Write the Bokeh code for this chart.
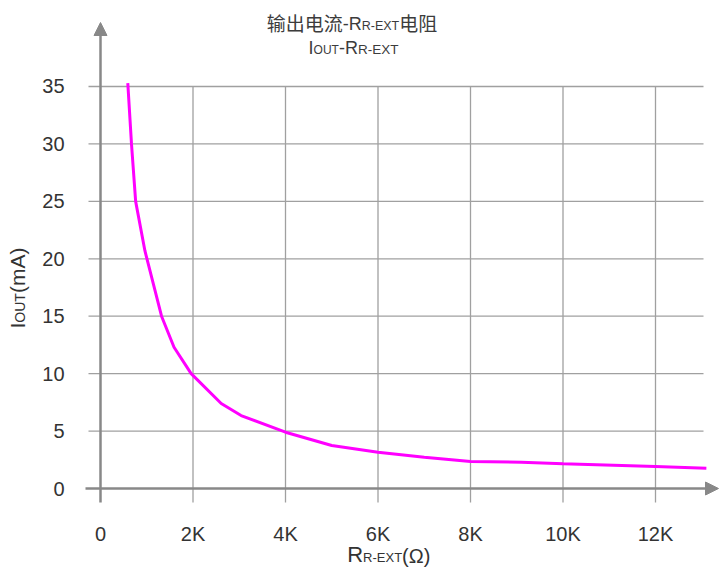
from bokeh.plotting import figure
from bokeh.models import Range1d, Label, Arrow, NormalHead
from bokeh.embed import file_html
from bokeh.resources import INLINE
from bokeh.core.properties import value
import math

# ---------------- data ----------------
r_kohm = [0.59, 0.67, 0.76, 0.96, 1.32, 1.59, 1.96, 2.61, 3.04, 4.0, 5.0, 6.0, 7.0, 8.0, 9.1, 10.0, 12.0, 13.1]
i_ma = [35.3, 30.0, 25.0, 20.7, 15.0, 12.3, 10.0, 7.4, 6.35, 4.9, 3.74, 3.16, 2.73, 2.35, 2.29, 2.15, 1.91, 1.77]

x_ticks = [0, 2, 4, 6, 8, 10, 12]
x_tick_labels = ["0", "2K", "4K", "6K", "8K", "10K", "12K"]
y_ticks = [0, 5, 10, 15, 20, 25, 30, 35]
y_tick_labels = ["0", "5", "10", "15", "20", "25", "30", "35"]

title_line1 = [("输出电流", "cjk", 19), ("-R", "lat", 18), ("R-EXT", "lat", 12.5), ("电阻", "cjk", 19)]
title_line2 = [("I", "lat", 18), ("OUT", "lat", 12), ("-R", "lat", 18), ("R-EXT", "lat", 13.5)]
x_label = [("R", "lat", 22), ("R-EXT", "lat", 13), ("(Ω)", "lat", 20)]
y_label = [("I", "lat", 21), ("OUT", "lat", 14), ("(mA)", "lat", 21)]

# ---------------- layout (page pixels; the page has no margin) ----------------
W, H = 720, 568
PX0, PY0 = 100.0, 488.0      # page px of data origin
SX, SY = 46.25, 11.486       # px per data unit

LAT = "Liberation Sans"
CJK = "Noto Sans CJK SC"
TXT = "#333333"
GRID = "#a0a0a0"
AX = "#888888"


def dx(px):
    return (px - PX0) / SX


def dy(py):
    return (PY0 - py) / SY


AW = {'I': 278, 'O': 778, 'U': 722, 'T': 611, '-': 333, 'R': 722, 'E': 667, 'X': 667,
      '(': 333, ')': 333, 'Ω': 768, 'm': 833, 'A': 667}


def width(text, kind, size):
    if kind == "cjk":
        return len(text) * size
    return sum(AW.get(c, 600) for c in text) / 1000.0 * size


def mid(kind, size):
    # distance from the alphabetic baseline to the glyphs' visual middle
    return (0.38 if kind == "cjk" else 0.35) * size


p = figure(width=W, height=H, output_backend="svg", toolbar_location=None,
           x_range=Range1d(dx(0), dx(W)), y_range=Range1d(dy(H), dy(0)),
           x_axis_location=None, y_axis_location=None,
           min_border=0)
p.outline_line_color = None
p.background_fill_color = "white"
p.border_fill_color = "white"
p.grid.visible = False

# grid lines (extend past the axes like tick marks)
p.segment(x0=x_ticks[1:], y0=dy(502), x1=x_ticks[1:], y1=y_ticks[-1],
          line_color=GRID, line_width=1.3)
p.segment(x0=dx(88), y0=y_ticks[1:], x1=dx(703), y1=y_ticks[1:],
          line_color=GRID, line_width=1.3)

# main axes with arrows
p.add_layout(Arrow(x_start=x_ticks[0], y_start=dy(502), x_end=x_ticks[0], y_end=dy(22),
                   line_color=AX, line_width=2.5,
                   end=NormalHead(size=13, fill_color=AX, line_color=AX, line_width=1)))
p.add_layout(Arrow(x_start=dx(85), y_start=y_ticks[0], x_end=dx(718), y_end=y_ticks[0],
                   line_color=AX, line_width=2.5,
                   end=NormalHead(size=13, fill_color=AX, line_color=AX, line_width=1)))

# tick labels at the tick values
p.text(x=x_ticks, y=[dy(533)] * len(x_ticks), text=x_tick_labels,
       text_font=value(LAT), text_font_size="20px", text_color=TXT,
       text_align="center", text_baseline="middle")
p.text(x=[dx(64)] * len(y_ticks), y=y_ticks, text=y_tick_labels,
       text_font=value(LAT), text_font_size="20px", text_color=TXT,
       text_align="right", text_baseline="middle")

# curve
p.line(r_kohm, i_ma, line_color="#ff00ff", line_width=3)


def place_h(pieces, cx, base, color):
    total = sum(width(t, k, s) for t, k, s in pieces)
    x = cx - total / 2.0
    for t, k, s in pieces:
        p.add_layout(Label(x=dx(x), y=dy(base - mid(k, s)), text=t,
                           text_font=CJK if k == "cjk" else LAT,
                           text_font_size=f"{s}px", text_color=color,
                           text_align="left", text_baseline="middle"))
        x += width(t, k, s)


def place_v(pieces, bx, start_y, color):
    y = start_y
    for t, k, s in pieces:
        p.add_layout(Label(x=dx(bx - mid(k, s)), y=dy(y), text=t,
                           text_font=CJK if k == "cjk" else LAT,
                           text_font_size=f"{s}px", text_color=color, angle=math.pi / 2,
                           text_align="left", text_baseline="middle"))
        y -= width(t, k, s)


place_h(title_line1, 351.5, 29.5, "#3c3c3c")
place_h(title_line2, 353, 53.5, "#3c3c3c")
place_h(x_label, 388.5, 562, TXT)
place_v(y_label, 24, 328, TXT)

html = file_html(p, INLINE)
open("out.html", "w").write(html)
